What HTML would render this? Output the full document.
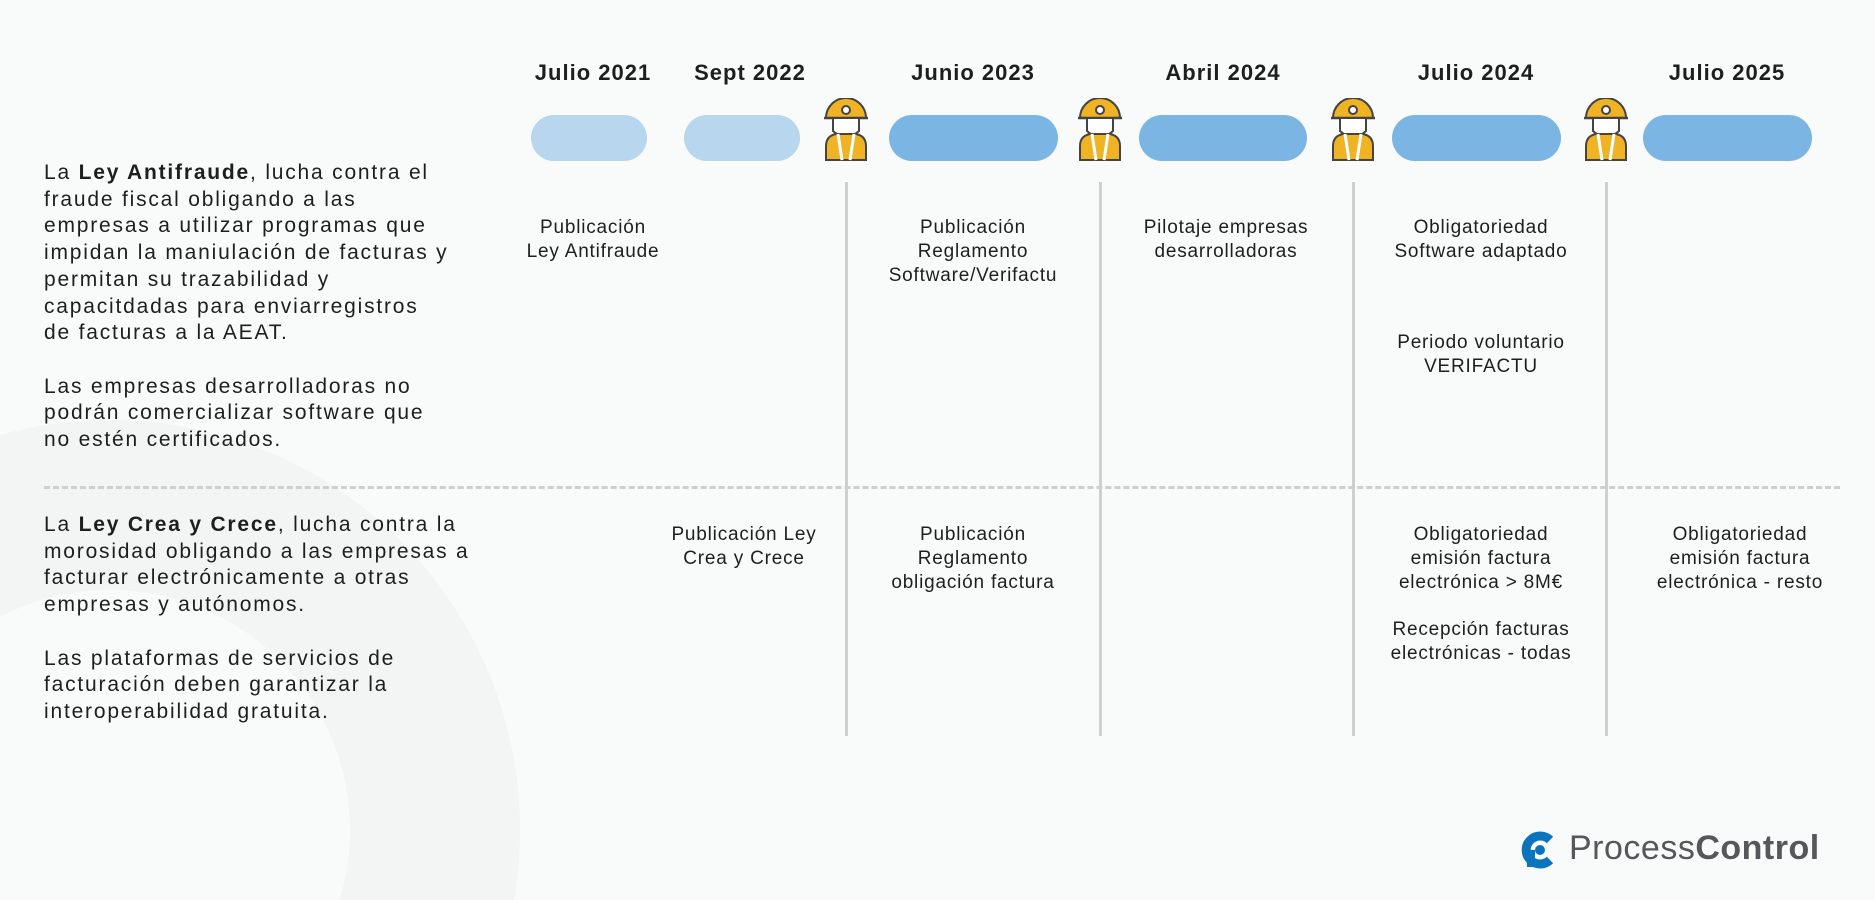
<!DOCTYPE html>
<html><head><meta charset="utf-8"><style>
html,body{margin:0;width:1875px;height:900px;overflow:hidden}
#c{position:relative;width:1875px;height:900px;overflow:hidden;background:#f9fafa;font-family:"Liberation Sans",sans-serif;color:#1e1e1e}
.a{position:absolute}
.d{position:absolute;top:60px;font-size:22px;font-weight:bold;text-align:center;width:220px;letter-spacing:1px}
.p{position:absolute;top:115px;height:46px;border-radius:23px}
.l{position:absolute;top:182px;width:3px;height:554px;background:#cfcfcf}
.t{position:absolute;font-size:19px;line-height:24px;text-align:center;width:260px;letter-spacing:0.8px}
.left{position:absolute;left:44px;font-size:21px;line-height:26.7px;letter-spacing:1.8px}
</style></head><body><div id="c">
<svg class="a" style="left:0;top:0" width="600" height="900"><circle cx="110" cy="830" r="325" fill="none" stroke="#f3f4f4" stroke-width="170"/></svg>
<div class="d" style="left:483px">Julio 2021</div>
<div class="d" style="left:640px">Sept 2022</div>
<div class="d" style="left:863px">Junio 2023</div>
<div class="d" style="left:1113px">Abril 2024</div>
<div class="d" style="left:1366px">Julio 2024</div>
<div class="d" style="left:1617px">Julio 2025</div>
<div class="p" style="left:531px;width:116px;background:#b8d6ee"></div>
<div class="p" style="left:684px;width:116px;background:#b8d6ee"></div>
<div class="p" style="left:889px;width:169px;background:#7ab5e3"></div>
<div class="p" style="left:1139px;width:168px;background:#7ab5e3"></div>
<div class="p" style="left:1392px;width:169px;background:#7ab5e3"></div>
<div class="p" style="left:1643px;width:169px;background:#7ab5e3"></div>
<svg width="0" height="0" style="position:absolute"><defs><g id="w">
<path d="M-20 20 A20 20 0 0 1 20 20 Z" fill="#f0b323" stroke="#444" stroke-width="2"/>
<line x1="-22" y1="20" x2="22" y2="20" stroke="#444" stroke-width="2.5"/>
<circle cx="0" cy="12" r="4" fill="#fff" stroke="#444" stroke-width="2"/>
<path d="M-13 21 v12 q13 12 26 0 v-12" fill="#fff" stroke="#444" stroke-width="2"/>
<path d="M-20 62 v-14 q0 -10 10 -12 l10 0 l10 0 q10 2 10 12 v14 Z" fill="#f0b323" stroke="#444" stroke-width="2"/>
<path d="M-8 36 l4 26 M8 36 l-4 26" stroke="#fff" stroke-width="3"/>
</g></defs></svg>
<svg class="a" style="left:822px;top:98px" width="48" height="64"><use href="#w" x="24" y="0"/></svg>
<svg class="a" style="left:1076px;top:98px" width="48" height="64"><use href="#w" x="24" y="0"/></svg>
<svg class="a" style="left:1329px;top:98px" width="48" height="64"><use href="#w" x="24" y="0"/></svg>
<svg class="a" style="left:1582px;top:98px" width="48" height="64"><use href="#w" x="24" y="0"/></svg>
<div class="l" style="left:845px"></div>
<div class="l" style="left:1099px"></div>
<div class="l" style="left:1352px"></div>
<div class="l" style="left:1605px"></div>
<div class="a" style="left:44px;top:486px;width:1796px;border-top:3px dashed #cfcfcf"></div>
<div class="left" style="top:160px">La <b>Ley Antifraude</b>, lucha contra el<br>fraude fiscal obligando a las<br>empresas a utilizar programas que<br>impidan la maniulación de facturas y<br>permitan su trazabilidad y<br>capacitdadas para enviarregistros<br>de facturas a la AEAT.<br><br>Las empresas desarrolladoras no<br>podrán comercializar software que<br>no estén certificados.</div>
<div class="left" style="top:512px">La <b>Ley Crea y Crece</b>, lucha contra la<br>morosidad obligando a las empresas a<br>facturar electrónicamente a otras<br>empresas y autónomos.<br><br>Las plataformas de servicios de<br>facturación deben garantizar la<br>interoperabilidad gratuita.</div>
<div class="t" style="left:463px;top:216px">Publicación<br>Ley Antifraude</div>
<div class="t" style="left:843px;top:216px">Publicación<br>Reglamento<br>Software/Verifactu</div>
<div class="t" style="left:1096px;top:216px">Pilotaje empresas<br>desarrolladoras</div>
<div class="t" style="left:1351px;top:216px">Obligatoriedad<br>Software adaptado</div>
<div class="t" style="left:1351px;top:331px">Periodo voluntario<br>VERIFACTU</div>
<div class="t" style="left:614px;top:523px">Publicación Ley<br>Crea y Crece</div>
<div class="t" style="left:843px;top:523px">Publicación<br>Reglamento<br>obligación factura</div>
<div class="t" style="left:1351px;top:523px">Obligatoriedad<br>emisión factura<br>electrónica &gt; 8M€</div>
<div class="t" style="left:1351px;top:618px">Recepción facturas<br>electrónicas - todas</div>
<div class="t" style="left:1610px;top:523px">Obligatoriedad<br>emisión factura<br>electrónica - resto</div>
<svg class="a" style="left:1520px;top:830px" width="40" height="40"><path d="M30 10 A14 14 0 1 0 30 30" fill="none" stroke="#0c74bd" stroke-width="9"/><circle cx="20" cy="20" r="5" fill="#0c74bd"/><rect x="7" y="20" width="8" height="17" fill="#0c74bd"/></svg>
<div class="a" style="left:1569px;top:829px;font-size:34px;color:#55575a;letter-spacing:0.5px">Process<b>Control</b></div>
</div></body></html>
